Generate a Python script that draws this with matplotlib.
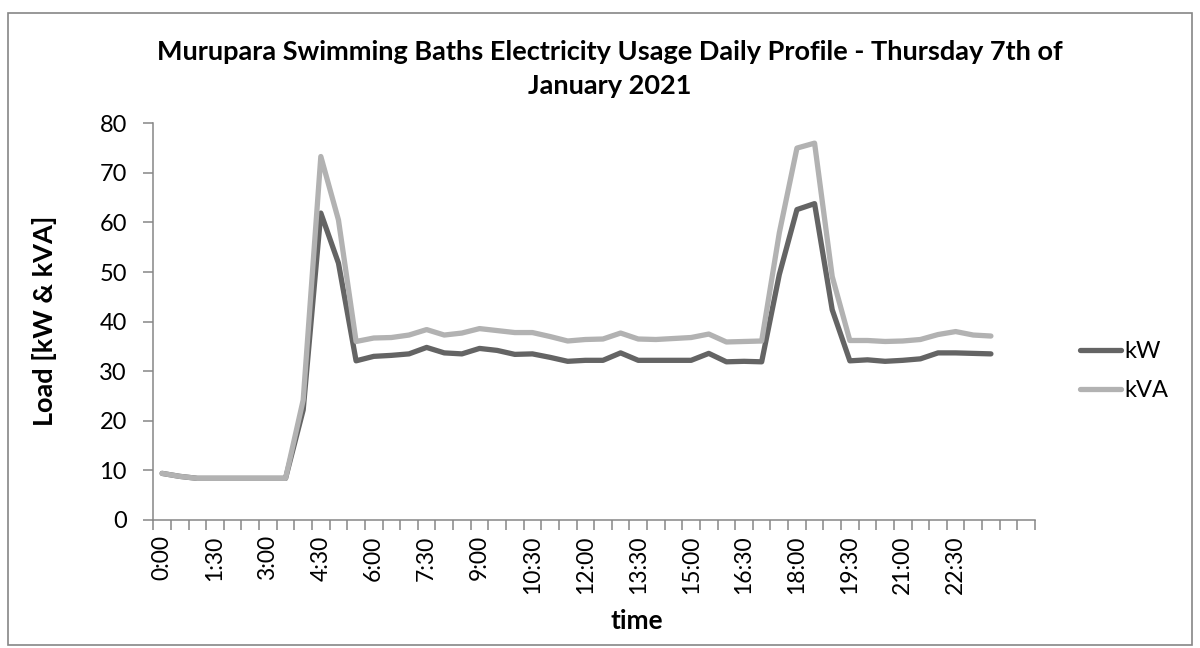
import numpy as np
import matplotlib.pyplot as plt
from matplotlib.patches import Rectangle

plt.rcParams['font.family'] = ['Lato', 'DejaVu Sans']

# half-hourly readings, 0:00 .. 23:30
times = ['%d:%02d' % (h, m) for h in range(24) for m in (0, 30)]
kw = [9.4, 8.8, 8.4, 8.4, 8.4, 8.4, 8.4, 8.4, 22.2, 61.9, 51.8, 32.1,
      33.0, 33.2, 33.5, 34.8, 33.7, 33.5, 34.6, 34.2, 33.4, 33.5, 32.8, 32.0,
      32.2, 32.2, 33.7, 32.2, 32.2, 32.2, 32.2, 33.6, 31.9, 32.0, 31.9, 49.5,
      62.6, 63.8, 42.4, 32.1, 32.3, 32.0, 32.2, 32.5, 33.7, 33.7, 33.6, 33.5]
kva = [9.4, 8.8, 8.4, 8.4, 8.4, 8.4, 8.4, 8.4, 24.2, 73.3, 60.5, 36.0,
       36.7, 36.8, 37.3, 38.4, 37.3, 37.7, 38.6, 38.2, 37.8, 37.8, 37.0, 36.1,
       36.4, 36.5, 37.7, 36.5, 36.4, 36.6, 36.8, 37.5, 35.9, 36.0, 36.1, 57.9,
       75.0, 76.0, 49.1, 36.2, 36.2, 36.0, 36.1, 36.4, 37.4, 38.0, 37.3, 37.1]
n_cats = 50  # category axis has two trailing empty slots

axis_col = '#868686'

fig = plt.figure(figsize=(12, 6.48), dpi=100)
ax = fig.add_axes([153.3 / 1200, 1 - 520 / 648, (1035 - 153.3) / 1200, (520 - 123.3) / 648])

x = np.arange(len(times)) + 0.5
ax.plot(x, kw, color='#646464', lw=3.8, solid_joinstyle='round', solid_capstyle='round', label='kW')
ax.plot(x, kva, color='#b2b2b2', lw=3.8, solid_joinstyle='round', solid_capstyle='round', label='kVA')

ax.set_xlim(0, n_cats)
ax.set_ylim(0, 80)
ax.set_yticks(range(0, 81, 10))

# ticks on category boundaries, labels every 1.5 h in the middle of the slot
ax.set_xticks(np.arange(n_cats + 1))
ax.set_xticklabels([])
ax.set_xticks(x[::3], minor=True)
ax.set_xticklabels(times[::3], minor=True, rotation=90)
ax.tick_params(axis='x', which='major', length=7, width=1.1, color=axis_col, direction='out')
ax.tick_params(axis='x', which='minor', length=0, pad=11, labelsize=16.5)
ax.tick_params(axis='y', length=7, width=1.1, color=axis_col, pad=12, labelsize=17)

for s in ('top', 'right'):
    ax.spines[s].set_visible(False)
for s in ('left', 'bottom'):
    ax.spines[s].set_color(axis_col)
    ax.spines[s].set_linewidth(1.1)

fig.text(0.508, 1 - 69 / 648,
         'Murupara Swimming Baths Electricity Usage Daily Profile - Thursday 7th of\nJanuary 2021',
         ha='center', va='center', fontsize=19.5, fontweight='bold', linespacing=1.45)
fig.text(45 / 1200, 1 - 321 / 648, 'Load [kW & kVA]', rotation=90, ha='center', va='center',
         fontsize=19.5, fontweight='bold')
fig.text(637 / 1200, 1 - 621 / 648, 'time', ha='center', va='center', fontsize=19, fontweight='bold')

fig.legend(loc='center left', bbox_to_anchor=(1080 / 1200, 1 - 371 / 648), frameon=False,
           borderpad=0, borderaxespad=0, fontsize=17, handlelength=1.75, handletextpad=0.15,
           labelspacing=0.75)

fig.patches.append(Rectangle((8 / 1200, 3 / 648), 1184 / 1200, 632 / 648, transform=fig.transFigure,
                             fill=False, edgecolor=axis_col, lw=1.2))

fig.savefig('out.png', dpi=100)
